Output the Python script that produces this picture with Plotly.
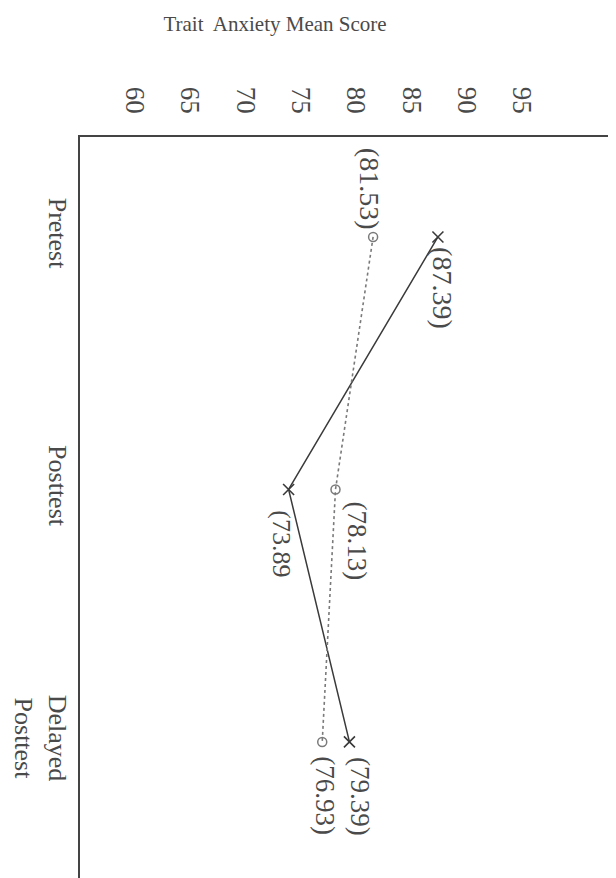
import plotly.graph_objects as go

# ---- data ----
sessions = ["Pretest", "Posttest", "Delayed Posttest"]
session_ticktext = ["Pretest", "Posttest", "Delayed<br>Posttest"]
group_x_scores = [87.39, 73.89, 79.39]
group_o_scores = [81.53, 78.13, 76.93]
group_x_labels = ["(87.39)", "(73.89", "(79.39)"]
group_o_labels = ["(81.53)", "(78.13)", "(76.93)"]
score_ticks = [60, 65, 70, 75, 80, 85, 90, 95]
title_text = "Trait&nbsp; Anxiety Mean Score"

FONT = "Liberation Serif, Times New Roman, serif"
TXT = "#4a4a4a"

# page body keeps its default 8px margin, so the figure is sized to fit
W, H, PAGE_OFF = 608, 870, 8

fig = go.Figure()
fig.add_trace(go.Scatter(
    x=group_x_scores, y=sessions, mode="lines+markers",
    line=dict(color="#3a3a3a", width=1.5),
    marker=dict(symbol="x-thin-open", size=11, line=dict(color="#3a3a3a", width=1.6)),
    showlegend=False, hoverinfo="skip"))
fig.add_trace(go.Scatter(
    x=group_o_scores, y=sessions, mode="lines+markers",
    line=dict(color="#7a7a7a", width=1.6, dash="dot"),
    marker=dict(symbol="circle-open", size=9, line=dict(color="#555", width=1.5)),
    showlegend=False, hoverinfo="skip"))

# label placement (xshift, yshift, yanchor, size) per point
x_offsets = [(4, -8, "top", 28), (-8, -19, "top", 26), (10, -13, "top", 27)]
o_offsets = [(-4, 5, "bottom", 28), (22, -10, "top", 27), (2, -12, "top", 27)]

annotations = []
for vals, labels, offs in ((group_x_scores, group_x_labels, x_offsets),
                           (group_o_scores, group_o_labels, o_offsets)):
    for v, s, lab, (dx, dy, ya, fs) in zip(vals, sessions, labels, offs):
        annotations.append(dict(
            x=v, y=s, xref="x", yref="y", text=lab, showarrow=False,
            textangle=90, xanchor="center", yanchor=ya, xshift=dx, yshift=dy,
            font=dict(family=FONT, size=fs, color=TXT)))

fig.update_layout(
    width=W, height=H,
    margin=dict(l=80 - PAGE_OFF, r=0, t=137 - PAGE_OFF, b=0, autoexpand=False),
    paper_bgcolor="white", plot_bgcolor="white",
    title=dict(text=title_text, xref="container", yref="container",
               x=(275 - PAGE_OFF) / W, y=1 - (24 - PAGE_OFF) / H,
               xanchor="center", yanchor="middle", automargin=False,
               font=dict(family=FONT, size=21, color=TXT)),
    annotations=annotations,
)
fig.update_xaxes(
    side="top", range=[55.03, 103.49], tickvals=score_ticks,
    ticktext=[str(t) for t in score_ticks], tickangle=90, automargin=False,
    showgrid=False, zeroline=False, ticks="", ticklabelstandoff=12,
    showline=True, linecolor="#444", linewidth=1.6,
    tickfont=dict(family=FONT, size=27, color=TXT))
fig.update_yaxes(
    type="category", categoryorder="array", categoryarray=sessions,
    tickvals=sessions, ticktext=session_ticktext, automargin=False,
    range=[2.539, -0.396], tickangle=90,
    showgrid=False, zeroline=False, ticks="", ticklabelstandoff=-2,
    showline=True, linecolor="#444", linewidth=1.6,
    tickfont=dict(family=FONT, size=26, color=TXT))

fig.write_html("out.html")
